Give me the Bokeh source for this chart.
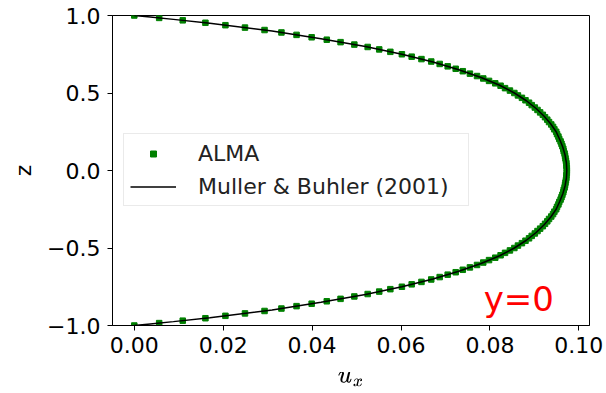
from bokeh.plotting import figure
from bokeh.models import FixedTicker, CustomJSTickFormatter, Legend, LegendItem, Label, Range1d
from bokeh.embed import file_html
from bokeh.resources import INLINE

# ALMA simulation points (z, u_x)
alma_z = [1.0, 0.9844, 0.9688, 0.9531, 0.9375, 0.9219, 0.9063, 0.8906, 0.875, 0.8594,
          0.8438, 0.8281, 0.8125, 0.7969, 0.7813, 0.7656, 0.75, 0.7344, 0.7188, 0.7031,
          0.6875, 0.6719, 0.6563, 0.6406, 0.625, 0.6094, 0.5938, 0.5781, 0.5625, 0.5469,
          0.5313, 0.5156, 0.5, 0.4844, 0.4688, 0.4531, 0.4375, 0.4219, 0.4063, 0.3906,
          0.375, 0.3594, 0.3438, 0.3281, 0.3125, 0.2969, 0.2813, 0.2656, 0.25, 0.2344,
          0.2188, 0.2031, 0.1875, 0.1719, 0.1563, 0.1406, 0.125, 0.1094, 0.0938, 0.0781,
          0.0625, 0.0469, 0.0313, 0.0156, 0.0,
          -0.0156, -0.0313, -0.0469, -0.0625, -0.0781, -0.0938, -0.1094, -0.125, -0.1406,
          -0.1563, -0.1719, -0.1875, -0.2031, -0.2188, -0.2344, -0.25, -0.2656, -0.2813,
          -0.2969, -0.3125, -0.3281, -0.3438, -0.3594, -0.375, -0.3906, -0.4063, -0.4219,
          -0.4375, -0.4531, -0.4688, -0.4844, -0.5, -0.5156, -0.5313, -0.5469, -0.5625,
          -0.5781, -0.5938, -0.6094, -0.625, -0.6406, -0.6563, -0.6719, -0.6875, -0.7031,
          -0.7188, -0.7344, -0.75, -0.7656, -0.7813, -0.7969, -0.8125, -0.8281, -0.8438,
          -0.8594, -0.875, -0.8906, -0.9063, -0.9219, -0.9375, -0.9531, -0.9688, -0.9844, -1.0]
alma_u = [0.0, 0.0056, 0.0109, 0.0160, 0.0205, 0.0249, 0.0293, 0.0331, 0.0365, 0.0399,
          0.0433, 0.0464, 0.0495, 0.0525, 0.0551, 0.0576, 0.0602, 0.0624, 0.0646, 0.0668,
          0.0687, 0.0705, 0.0723, 0.0739, 0.0755, 0.0771, 0.0785, 0.0798, 0.0812, 0.0824,
          0.0834, 0.0845, 0.0855, 0.0863, 0.0872, 0.0880, 0.0888, 0.0894, 0.0901, 0.0907,
          0.0913, 0.0919, 0.0924, 0.0929, 0.0933, 0.0938, 0.0942, 0.0945, 0.0949, 0.0951,
          0.0954, 0.0956, 0.0959, 0.0961, 0.0963, 0.0965, 0.0966, 0.0968, 0.0969, 0.0970,
          0.0971, 0.0972, 0.0972, 0.0973, 0.0973,
          0.0973, 0.0972, 0.0972, 0.0971, 0.0970, 0.0969, 0.0968, 0.0966, 0.0965,
          0.0963, 0.0961, 0.0959, 0.0956, 0.0954, 0.0951, 0.0949, 0.0945, 0.0942,
          0.0938, 0.0933, 0.0929, 0.0924, 0.0919, 0.0913, 0.0907, 0.0901, 0.0894,
          0.0888, 0.0880, 0.0872, 0.0863, 0.0855, 0.0845, 0.0834, 0.0824, 0.0812,
          0.0798, 0.0785, 0.0771, 0.0755, 0.0739, 0.0723, 0.0705, 0.0687, 0.0668,
          0.0646, 0.0624, 0.0602, 0.0576, 0.0551, 0.0525, 0.0495, 0.0464, 0.0433,
          0.0399, 0.0365, 0.0331, 0.0293, 0.0249, 0.0205, 0.0160, 0.0109, 0.0056, 0.0]

# Muller & Buhler (2001) analytical profile (z, u_x)
mb_z = [1.0, 0.99, 0.975, 0.95, 0.9, 0.85, 0.8, 0.75, 0.7, 0.65, 0.6, 0.55, 0.5, 0.45, 0.4,
        0.35, 0.3, 0.25, 0.2, 0.15, 0.1, 0.05, 0.0, -0.05, -0.1, -0.15, -0.2, -0.25, -0.3,
        -0.35, -0.4, -0.45, -0.5, -0.55, -0.6, -0.65, -0.7, -0.75, -0.8, -0.85, -0.9, -0.95,
        -0.975, -0.99, -1.0]
mb_u = [0.0, 0.0036, 0.0088, 0.0170, 0.0310, 0.0420, 0.0520, 0.0602, 0.0672, 0.0730, 0.0780,
        0.0822, 0.0855, 0.0882, 0.0904, 0.0922, 0.0937, 0.0949, 0.0957, 0.0964, 0.0969, 0.0972,
        0.0973, 0.0972, 0.0969, 0.0964, 0.0957, 0.0949, 0.0937, 0.0922, 0.0904, 0.0882, 0.0855,
        0.0822, 0.0780, 0.0730, 0.0672, 0.0602, 0.0520, 0.0420, 0.0310, 0.0170, 0.0088, 0.0036, 0.0]

x_ticks = [0.0, 0.02, 0.04, 0.06, 0.08, 0.10]
y_ticks = [-1.0, -0.5, 0.0, 0.5, 1.0]
annotation = "y=0"

FONT = "DejaVu Sans"

p = figure(width=606, height=393, frame_width=477, frame_height=310,
           output_backend="svg", toolbar_location=None,
           x_range=Range1d(-0.0049, 0.1024), y_range=Range1d(-1.0, 1.0),
           min_border_left=112, min_border_right=17, min_border_top=15, min_border_bottom=68)
p.background_fill_color = "white"
p.border_fill_color = "white"
p.outline_line_color = "black"
p.outline_line_width = 1
p.xgrid.visible = False
p.ygrid.visible = False

for ax in (p.xaxis[0], p.yaxis[0]):
    ax.major_tick_in = 0
    ax.major_tick_out = 5
    ax.minor_tick_in = 0
    ax.minor_tick_out = 0
    ax.major_label_text_font = FONT
    ax.major_label_text_font_size = "22px"
    ax.major_label_text_color = "black"
    ax.axis_line_color = "black"
    ax.major_tick_line_color = "black"
    ax.axis_label_text_font = FONT
    ax.axis_label_text_font_style = "normal"
    ax.axis_label_text_color = "black"
    ax.axis_label_text_font_size = "22px"

p.xaxis.ticker = FixedTicker(ticks=x_ticks)
p.yaxis.ticker = FixedTicker(ticks=y_ticks)
p.xaxis.formatter = CustomJSTickFormatter(code="return tick.toFixed(2).replace('-', '\u2212');")
p.yaxis.formatter = CustomJSTickFormatter(code="return tick.toFixed(1).replace('-', '\u2212');")
p.xaxis.major_label_standoff = 6
p.yaxis.major_label_standoff = 7
p.xaxis.axis_label = "$$u_x$$"
p.xaxis.axis_label_text_font_size = "20px"
p.xaxis.axis_label_standoff = 16
p.yaxis.axis_label = "z"
p.yaxis.axis_label_standoff = 8

r_alma = p.scatter(alma_u, alma_z, marker="square", size=5.5, fill_color="#008000",
                   line_color="#008000")
r_mb = p.line(mb_u, mb_z, line_color="black", line_width=1.5)

legend = Legend(items=[LegendItem(label="ALMA", renderers=[r_alma]),
                       LegendItem(label="Muller & Buhler (2001)", renderers=[r_mb])],
                location=(11, 119))
legend.label_text_font = FONT
legend.label_text_font_size = "22px"
legend.label_text_color = "#222222"
legend.glyph_width = 46
legend.glyph_height = 15
legend.label_height = 26
legend.label_width = 264
legend.label_standoff = 22
legend.spacing = 7
legend.padding = 6
legend.margin = 0
legend.border_line_color = "#d5d5d5"
legend.border_line_width = 1
legend.background_fill_color = "white"
legend.background_fill_alpha = 0.8
p.add_layout(legend, "center")

p.add_layout(Label(x=0.0786, y=-0.83, text=annotation, text_color="red",
                   text_font=FONT, text_font_size="34px", text_baseline="alphabetic"))

open("out.html", "w").write(file_html(p, INLINE))
